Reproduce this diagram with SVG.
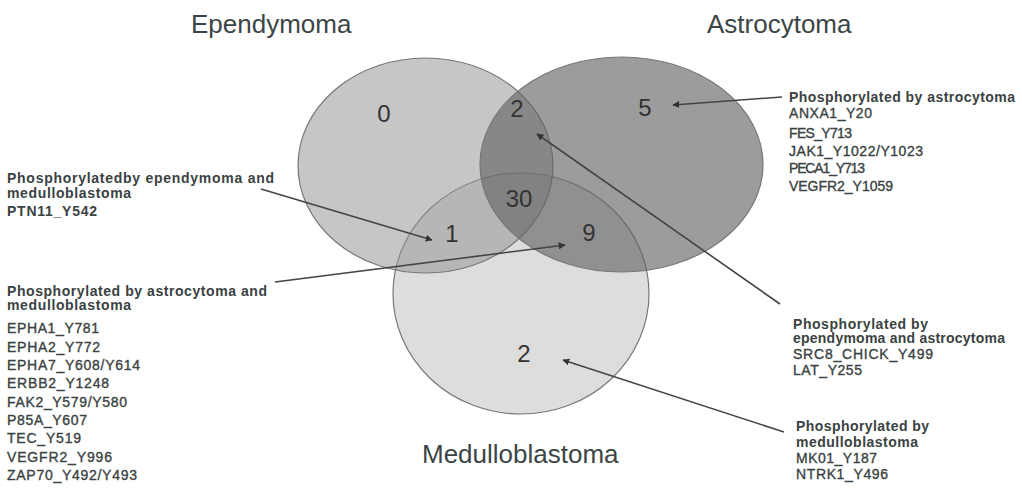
<svg xmlns="http://www.w3.org/2000/svg" width="1022" height="488" viewBox="0 0 1022 488">
<style>
.title{font-family:"Liberation Sans",Arial,sans-serif;font-size:26px;fill:#3c4545}
.num{font-family:"Liberation Sans",Arial,sans-serif;font-size:24px;fill:#333;text-anchor:middle}
.hd{font-family:"Liberation Sans",Arial,sans-serif;font-size:14px;font-weight:bold;fill:#3a4242}
.it{font-family:"Liberation Sans",Arial,sans-serif;font-size:14px;fill:#3a4242;stroke:#3a4242;stroke-width:0.35}
.set{stroke:#777;stroke-width:1.2}
.arr{stroke:#444;stroke-width:1.6;fill:none;marker-end:url(#ah)}
</style>
<defs>
<marker id="ah" viewBox="0 0 10 10" refX="9" refY="5" markerWidth="7" markerHeight="7" markerUnits="userSpaceOnUse" orient="auto">
<path d="M0,0 L10,5 L0,10 z" fill="#333"/>
</marker>
</defs>
<rect width="1022" height="488" fill="#ffffff"/>
<g id="medulloblastoma">
<ellipse class="set" cx="521" cy="293.5" rx="128" ry="120.5" fill="#a0a0a0" fill-opacity="0.36"/>
</g>
<g id="ependymoma">
<ellipse class="set" cx="425.5" cy="165.5" rx="127.5" ry="107.5" fill="#969696" fill-opacity="0.54"/>
</g>
<g id="astrocytoma">
<ellipse class="set" cx="621.5" cy="164.5" rx="141.5" ry="107.5" fill="#646464" fill-opacity="0.64"/>
</g>
<g id="titles">
<text class="title" x="191" y="33">Ependymoma</text>
<text class="title" x="707" y="33">Astrocytoma</text>
<text class="title" x="422" y="463">Medulloblastoma</text>
</g>
<g id="counts">
<text class="num" x="384" y="122">0</text>
<text class="num" x="517" y="117">2</text>
<text class="num" x="645" y="116">5</text>
<text class="num" x="519" y="207">30</text>
<text class="num" x="452" y="242">1</text>
<text class="num" x="589" y="241">9</text>
<text class="num" x="524" y="362">2</text>
</g>
<g id="connectors">
<line class="arr" x1="782" y1="97" x2="673" y2="105"/>
<line class="arr" x1="780" y1="304" x2="537" y2="134"/>
<line class="arr" x1="261" y1="189" x2="432" y2="240"/>
<line class="arr" x1="275" y1="282" x2="565" y2="245"/>
<line class="arr" x1="784" y1="432" x2="563" y2="360"/>
</g>
<g id="label-ep-med">
<text class="hd" x="7" y="183" textLength="267">Phosphorylatedby ependymoma and</text>
<text class="hd" x="7" y="198" textLength="124">medulloblastoma</text>
<text class="hd" x="7" y="216" textLength="90">PTN11_Y542</text>
</g>
<g id="label-astro-med">
<text class="hd" x="7" y="296" textLength="260">Phosphorylated by astrocytoma and</text>
<text class="hd" x="7" y="310" textLength="124">medulloblastoma</text>
<text class="it" x="7" y="333" textLength="92">EPHA1_Y781</text>
<text class="it" x="7" y="352" textLength="93">EPHA2_Y772</text>
<text class="it" x="7" y="370" textLength="133">EPHA7_Y608/Y614</text>
<text class="it" x="7" y="388" textLength="102">ERBB2_Y1248</text>
<text class="it" x="7" y="407" textLength="120">FAK2_Y579/Y580</text>
<text class="it" x="7" y="425" textLength="80">P85A_Y607</text>
<text class="it" x="7" y="443" textLength="74">TEC_Y519</text>
<text class="it" x="7" y="462" textLength="105">VEGFR2_Y996</text>
<text class="it" x="7" y="480" textLength="130">ZAP70_Y492/Y493</text>
</g>
<g id="label-astro">
<text class="hd" x="789" y="102" textLength="226">Phosphorylated by astrocytoma</text>
<text class="it" x="789" y="118" textLength="83">ANXA1_Y20</text>
<text class="it" x="789" y="138" textLength="63">FES_Y713</text>
<text class="it" x="789" y="156" textLength="134">JAK1_Y1022/Y1023</text>
<text class="it" x="789" y="173" textLength="76">PECA1_Y713</text>
<text class="it" x="789" y="191" textLength="104">VEGFR2_Y1059</text>
</g>
<g id="label-ep-astro">
<text class="hd" x="793" y="329" textLength="135">Phosphorylated by</text>
<text class="hd" x="793" y="343" textLength="212">ependymoma and astrocytoma</text>
<text class="it" x="793" y="359" textLength="140">SRC8_CHICK_Y499</text>
<text class="it" x="793" y="375" textLength="69">LAT_Y255</text>
</g>
<g id="label-med">
<text class="hd" x="796" y="431" textLength="133">Phosphorylated by</text>
<text class="hd" x="796" y="447" textLength="122">medulloblastoma</text>
<text class="it" x="796" y="463" textLength="81">MK01_Y187</text>
<text class="it" x="796" y="479" textLength="92">NTRK1_Y496</text>
</g>
</svg>
